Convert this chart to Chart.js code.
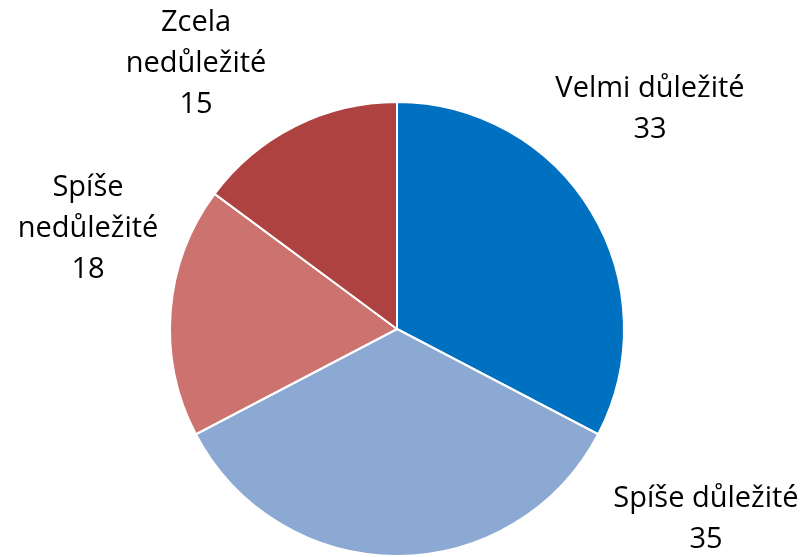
<!DOCTYPE html>
<html>
<head>
<meta charset="utf-8">
<script src="https://cdn.jsdelivr.net/npm/chart.js@4"></script>
<style>
  html, body { margin: 0; padding: 0; background: #ffffff; }
  #wrap { width: 809px; height: 557px; position: relative; }
</style>
</head>
<body>
<div id="wrap"><canvas id="c" width="809" height="557"></canvas></div>
<script>
// Data
const categories = ["Velmi důležité", "Spíše důležité", "Spíše nedůležité", "Zcela nedůležité"];
const values = [33, 35, 18, 15];
// Label text lines (as shown in chart)
const labelLines = [
  ["Velmi důležité", "33"],
  ["Spíše důležité", "35"],
  ["Spíše", "nedůležité", "18"],
  ["Zcela", "nedůležité", "15"]
];

// Styles / layout (kept separate from data)
const colors = ["#0070C0", "#8BA9D2", "#CC7370", "#AD4240"];
// label block center offsets relative to pie center (px)
const labelOffsets = [[253, -220], [309, 190], [-309, -100], [-201, -265]];
const FONT = "29px 'Open Sans', 'Noto Sans', sans-serif";
const LINE_H = 41;

const labelPlugin = {
  id: 'outLabels',
  afterDatasetsDraw(chart) {
    const ctx = chart.ctx;
    const meta = chart.getDatasetMeta(0);
    ctx.save();
    ctx.font = FONT;
    ctx.fillStyle = "#000000";
    ctx.textAlign = "center";
    ctx.textBaseline = "middle";
    meta.data.forEach((arc, i) => {
      const lines = labelLines[i];
      const cx = arc.x + labelOffsets[i][0];
      const cy = arc.y + labelOffsets[i][1];
      const startY = cy - (lines.length - 1) * LINE_H / 2;
      lines.forEach((t, j) => ctx.fillText(t, cx, startY + j * LINE_H));
    });
    ctx.restore();
  }
};

new Chart(document.getElementById('c'), {
  type: 'pie',
  data: {
    labels: categories,
    datasets: [{
      data: values,
      backgroundColor: colors,
      borderColor: "#ffffff",
      borderWidth: 2
    }]
  },
  options: {
    responsive: false,
    animation: false,
    layout: { padding: { top: 101, bottom: 0, left: 0, right: 15 } },
    plugins: {
      legend: { display: false },
      tooltip: { enabled: false }
    }
  },
  plugins: [labelPlugin]
});
</script>
</body>
</html>
